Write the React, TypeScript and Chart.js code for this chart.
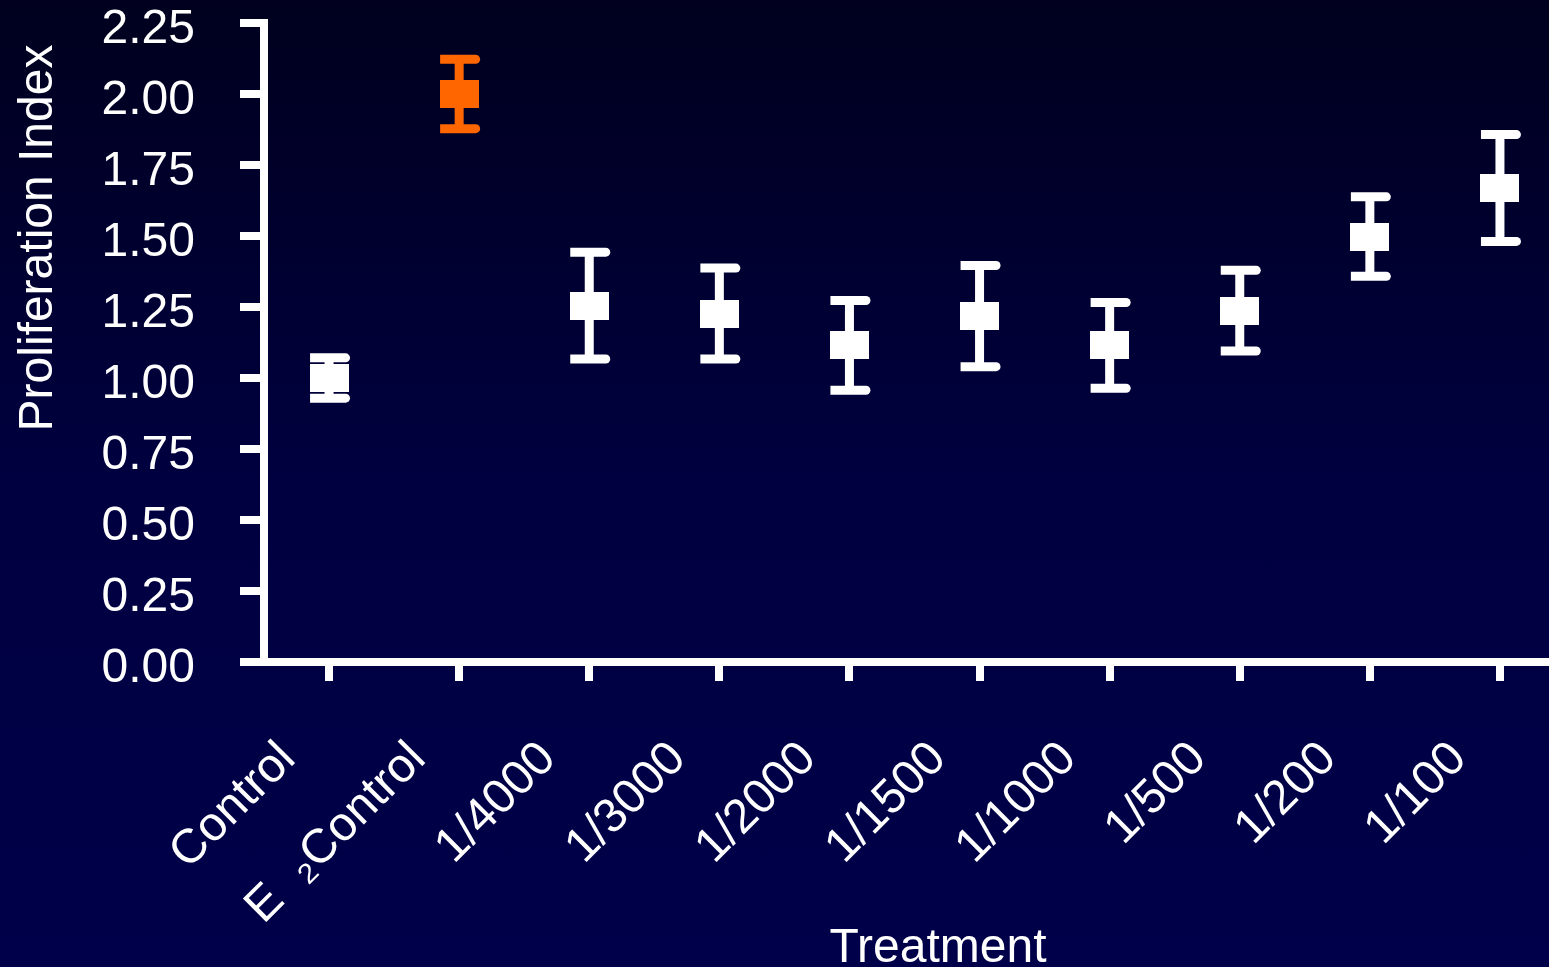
import React, { useEffect, useRef } from "react";
import { Chart, registerables } from "chart.js";

Chart.register(...registerables);

const categories = ["Control", "E  \u2082Control", "1/4000", "1/3000", "1/2000", "1/1500", "1/1000", "1/500", "1/200", "1/100"];
const means = [1.0, 2.0, 1.255, 1.227, 1.115, 1.218, 1.115, 1.237, 1.498, 1.669];
const errors = [0.071, 0.122, 0.188, 0.16, 0.158, 0.178, 0.151, 0.142, 0.14, 0.188];
const markerColors = ["#ffffff", "#ff6600", "#ffffff", "#ffffff", "#ffffff", "#ffffff", "#ffffff", "#ffffff", "#ffffff", "#ffffff"];
const yTicks = [0, 0.25, 0.5, 0.75, 1.0, 1.25, 1.5, 1.75, 2.0, 2.25];

const FONT = "'Liberation Sans', Arial, 'DejaVu Sans', sans-serif";

function makeMarker(color: string): HTMLCanvasElement {
  const c = document.createElement("canvas");
  c.width = 39;
  c.height = 28;
  const g = c.getContext("2d")!;
  g.fillStyle = color;
  g.fillRect(0, 0, 39, 28);
  return c;
}

const errorBarPlugin = {
  id: "errorBars",
  beforeDatasetsDraw(chart: any) {
    const { ctx, scales } = chart;
    const x = scales.x;
    const y = scales.y;
    ctx.save();
    means.forEach((m, i) => {
      const px = x.getPixelForValue(i);
      const top = y.getPixelForValue(m + errors[i]);
      const bot = y.getPixelForValue(m - errors[i]);
      ctx.fillStyle = markerColors[i];
      ctx.fillRect(px - 4.5, top, 9, bot - top);
      [top, bot].forEach((cy) => {
        ctx.beginPath();
        if ((ctx as any).roundRect) {
          (ctx as any).roundRect(px - 19, cy - 4.5, 40, 9, [0, 4.5, 4.5, 0]);
        } else {
          ctx.rect(px - 19, cy - 4.5, 40, 9);
        }
        ctx.fill();
      });
    });
    ctx.restore();
  },
  afterDraw(chart: any) {
    const { ctx } = chart;
    ctx.save();
    ctx.fillStyle = "#ffffff";
    ctx.font = `48px ${FONT}`;
    ctx.textAlign = "center";
    ctx.textBaseline = "alphabetic";
    ctx.fillText("Treatment", 938, 962);
    ctx.translate(52, 238);
    ctx.rotate(-Math.PI / 2);
    ctx.fillText("Proliferation Index", 0, 0);
    ctx.restore();
  },
};

export default function App() {
  const ref = useRef<HTMLCanvasElement | null>(null);

  useEffect(() => {
    if (!ref.current) return;
    const markers = markerColors.map((c) => makeMarker(c));
    const chart = new Chart(ref.current, {
      type: "line",
      data: {
        labels: categories,
        datasets: [
          {
            data: means,
            showLine: false,
            pointStyle: markers as any,
            pointRadius: 5,
            pointHoverRadius: 5,
            backgroundColor: markerColors,
            borderColor: markerColors,
          },
        ],
      },
      options: {
        animation: false,
        responsive: false,
        devicePixelRatio: 1,
        events: [],
        layout: { padding: 0 },
        plugins: {
          legend: { display: false },
          tooltip: { enabled: false },
          title: { display: false },
        },
        scales: {
          x: {
            type: "category",
            offset: true,
            grid: {
              drawOnChartArea: false,
              drawTicks: true,
              tickLength: 19,
              lineWidth: 8,
              color: "#ffffff",
              offset: false,
            },
            border: { display: true, color: "#ffffff", width: 8 },
            ticks: {
              color: "#ffffff",
              font: { family: FONT, size: 48 },
              minRotation: 45,
              maxRotation: 45,
              autoSkip: false,
              padding: 50,
              labelOffset: -41,
            },
            afterFit: (scale: any) => {
              scale.height = 305;
              scale.paddingLeft = 0;
              scale.paddingRight = 0;
            },
          },
          y: {
            type: "linear",
            min: 0,
            max: 2.25,
            afterBuildTicks: (scale: any) => {
              scale.ticks = yTicks.map((v) => ({ value: v }));
            },
            grid: {
              drawOnChartArea: false,
              drawTicks: true,
              tickLength: 24,
              lineWidth: 8,
              color: "#ffffff",
            },
            border: { display: true, color: "#ffffff", width: 8 },
            ticks: {
              color: "#ffffff",
              font: { family: FONT, size: 48, lineHeight: 14 / 48 },
              padding: 45,
              callback: (v: any) => ["", Number(v).toFixed(2)],
            },
            afterFit: (scale: any) => {
              scale.width = 264;
              scale.paddingTop = 23;
              scale.paddingBottom = 0;
            },
          },
        },
      },
      plugins: [errorBarPlugin],
    });
    return () => chart.destroy();
  }, []);

  return (
    <div
      style={{
        position: "fixed",
        left: 0,
        top: 0,
        width: "100vw",
        height: "100vh",
        overflow: "hidden",
        background: "linear-gradient(to bottom, #00001e 0%, #000040 50%, #00004a 100%)",
      }}
    >
      <canvas ref={ref} width={1571} height={967} style={{ display: "block", width: 1571, height: 967 }} />
    </div>
  );
}
